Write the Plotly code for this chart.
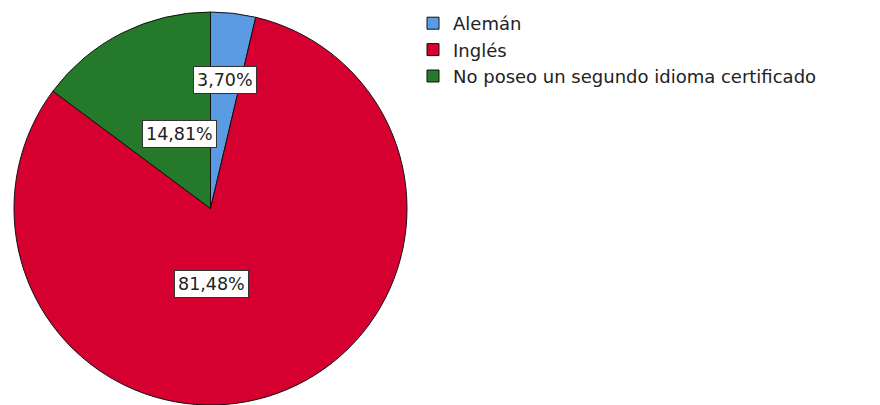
import plotly.graph_objects as go

categories = ["Alemán", "Inglés", "No poseo un segundo idioma certificado"]
values = [3.70, 81.48, 14.81]
label_texts = ["3,70%", "81,48%", "14,81%"]
colors = ["#5A9BE4", "#D5002F", "#247A2A"]
# label box centres in pixels (from top-left)
label_px = [(225, 80), (211, 284), (179, 134)]

W, H = 880, 405
fig = go.Figure()
fig.add_trace(go.Pie(
    labels=categories, values=values, sort=False, direction="clockwise",
    rotation=0, textinfo="none", hoverinfo="label+percent",
    marker=dict(colors=colors, line=dict(color="#111111", width=1)),
    domain=dict(x=[14 / W, 407 / W], y=[0, 393 / H]),
))
for t, (px, py) in zip(label_texts, label_px):
    fig.add_annotation(
        x=px / W, y=1 - py / H, xref="paper", yref="paper", text=t,
        showarrow=False, font=dict(family="DejaVu Sans", size=17.5, color="#222222"),
        bgcolor="white", bordercolor="#333333", borderwidth=1, borderpad=3,
        xanchor="center", yanchor="middle",
    )
fig.update_layout(
    width=W, height=H, margin=dict(l=0, r=0, t=0, b=0),
    paper_bgcolor="white", plot_bgcolor="white",
    font=dict(family="DejaVu Sans", color="#222222"),
    legend=dict(x=413 / W, y=1 - 5 / H, xanchor="left", yanchor="top",
                font=dict(size=18, family="DejaVu Sans", color="#222222"),
                bgcolor="rgba(0,0,0,0)", tracegroupgap=0),
    showlegend=True,
)
fig.write_html("out.html", config={"displayModeBar": False},
               post_script="document.body.style.margin='0';")
